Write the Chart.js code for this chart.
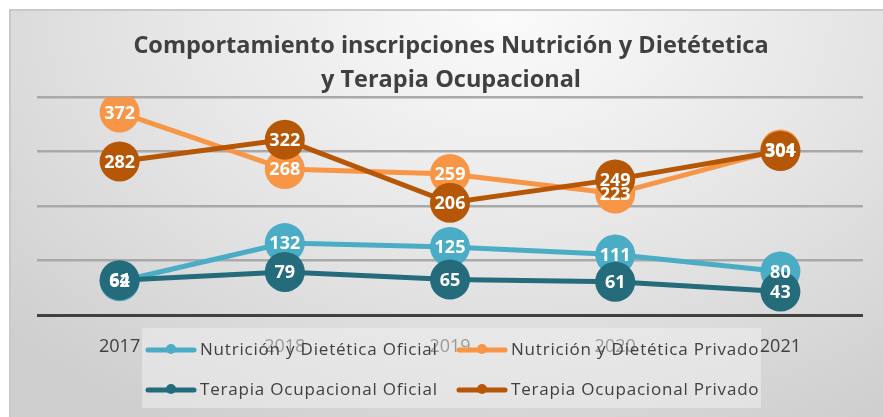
<!DOCTYPE html>
<html>
<head>
<meta charset="utf-8">
<script src="https://cdn.jsdelivr.net/npm/chart.js@4"></script>
<style>
  html, body { margin: 0; padding: 0; background: #fff; overflow: hidden; }
  #frame {
    position: absolute; left: 9px; top: 9px; width: 900px; height: 430px;
    border-left: 2px solid #c9c9c9; border-top: 2px solid #c9c9c9;
    background: radial-gradient(ellipse 75% 110% at 55% 0%, #fbfbfb 0%, #e4e4e4 55%, #cfcfcf 100%);
  }
  #chart { position: absolute; left: 0; top: 0; }
</style>
</head>
<body>
<div id="frame"></div>
<canvas id="chart" width="883" height="417"></canvas>
<script>
// Inscripciones por año
var years = ['2017', '2018', '2019', '2020', '2021'];
var nutricionOficial = [62, 132, 125, 111, 80];
var nutricionPrivado = [372, 268, 259, 223, 304];
var terapiaOficial = [64, 79, 65, 61, 43];
var terapiaPrivado = [282, 322, 206, 249, 301];
var yTicks = [0, 100, 200, 300, 400];

var FONT = "'Open Sans', sans-serif";

function serie(label, values, color, order) {
    return {
        label: label,
        data: values,
        borderColor: color,
        backgroundColor: color,
        borderWidth: 5,
        pointRadius: 20,
        pointHoverRadius: 20,
        pointBorderWidth: 0,
        pointBackgroundColor: color,
        tension: 0,
        order: order
    };
}

// white value labels centred on the markers, drawn after all series
var valueLabels = {
    id: 'valueLabels',
    afterDatasetsDraw: function (chart) {
        var ctx = chart.ctx;
        ctx.save();
        ctx.font = 'bold 18px ' + FONT;
        ctx.fillStyle = '#ffffff';
        ctx.textAlign = 'center';
        ctx.textBaseline = 'middle';
        chart.data.datasets.forEach(function (ds, i) {
            chart.getDatasetMeta(i).data.forEach(function (pt, j) {
                ctx.fillText(String(ds.data[j]), pt.x, pt.y + 1);
            });
        });
        ctx.restore();
    }
};

// legend in two columns, laid over the bottom labels
var boxLegend = {
    id: 'boxLegend',
    afterDraw: function (chart) {
        var ctx = chart.ctx;
        ctx.save();
        ctx.fillStyle = 'rgba(241,241,241,0.5)';
        ctx.fillRect(142, 328, 619, 80);
        var cols = [146, 457];
        var rows = [350, 390];
        chart.data.datasets.forEach(function (ds, i) {
            var x = cols[i % 2];
            var y = rows[Math.floor(i / 2)];
            ctx.strokeStyle = ds.borderColor;
            ctx.lineWidth = 5;
            ctx.lineCap = 'round';
            ctx.beginPath();
            ctx.moveTo(x + 2, y);
            ctx.lineTo(x + 48, y);
            ctx.stroke();
            ctx.fillStyle = ds.borderColor;
            ctx.beginPath();
            ctx.arc(x + 25, y - 1, 5, 0, Math.PI * 2);
            ctx.fill();
            ctx.fillStyle = '#404040';
            ctx.font = '17px ' + FONT;
            ctx.letterSpacing = '0.8px';
            ctx.textAlign = 'left';
            ctx.textBaseline = 'middle';
            ctx.fillText(ds.label, x + 54, y);
        });
        ctx.restore();
    }
};

var ctx = document.getElementById('chart').getContext('2d');
var chart = new Chart(ctx, {
    type: 'line',
    data: {
        labels: years,
        datasets: [
            serie('Nutrición y Dietética Oficial', nutricionOficial, '#4BACC6', 3),
            serie('Nutrición y Dietética Privado', nutricionPrivado, '#F79646', 2),
            serie('Terapia Ocupacional Oficial', terapiaOficial, '#246B7C', 1),
            serie('Terapia Ocupacional Privado', terapiaPrivado, '#B65708', 0)
        ]
    },
    options: {
        responsive: false,
        animation: false,
        devicePixelRatio: 1,
        layout: { padding: { left: 37, right: 18, top: 0, bottom: 0 } },
        plugins: {
            legend: { display: false },
            tooltip: { enabled: false },
            title: {
                display: true,
                text: ['Comportamiento inscripciones Nutrición y Dietétetica', 'y Terapia Ocupacional'],
                color: '#404040',
                font: { family: FONT, size: 23.5, weight: 'bold', lineHeight: 1.45 },
                padding: { top: 29, bottom: 0 }
            }
        },
        scales: {
            x: {
                offset: true,
                grid: { display: false, drawTicks: false },
                border: { display: false },
                ticks: { color: '#404040', font: { family: FONT, size: 18 }, padding: 21 },
                afterFit: function (scale) { scale.height = 102; }
            },
            y: {
                min: 0,
                max: 400,
                afterBuildTicks: function (scale) {
                    scale.ticks = yTicks.map(function (v) { return { value: v }; });
                },
                ticks: { display: false },
                border: { display: false },
                grid: {
                    drawTicks: false,
                    color: function (c) { return c.tick.value === 0 ? '#404040' : '#a9a9a9'; },
                    lineWidth: function (c) { return c.tick.value === 0 ? 3 : 2.5; }
                }
            }
        }
    },
    plugins: [valueLabels, boxLegend]
});
</script>
</body>
</html>
